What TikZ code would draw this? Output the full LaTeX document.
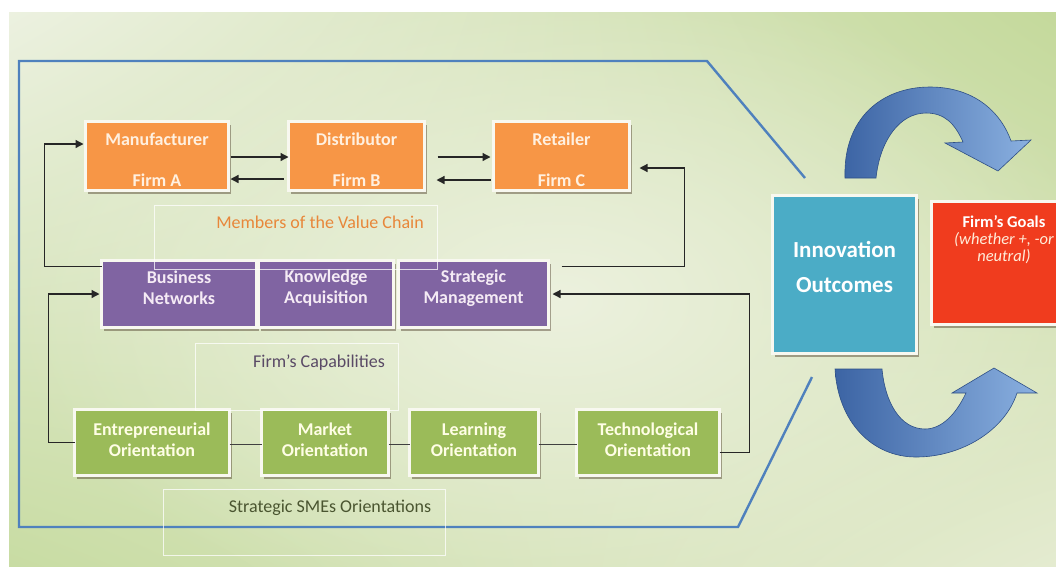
\documentclass[tikz,border=0pt]{standalone}
\usepackage{fontspec}
\setmainfont{Carlito}
\usetikzlibrary{arrows.meta,shadows,shadings,fadings,calc}

\definecolor{bgUL}{HTML}{ECF1E0}
\definecolor{bgUR}{HTML}{C4D99B}
\definecolor{bgLL}{HTML}{C8DCA3}
\definecolor{bgLR}{HTML}{E4EBD0}
\definecolor{bgMid}{HTML}{ECF1DE}
\definecolor{vcOrange}{HTML}{F79646}
\definecolor{capPurple}{HTML}{8064A2}
\definecolor{oriGreen}{HTML}{9BBB59}
\definecolor{innoTeal}{HTML}{4BACC6}
\definecolor{goalRed}{HTML}{F03C1E}
\definecolor{edgeBlue}{HTML}{4F81BD}
\definecolor{frameWhite}{HTML}{F8F8F0}
\definecolor{arcDark}{HTML}{3C64A4}
\definecolor{arcLight}{HTML}{8AB0E0}
\definecolor{arcEdge}{HTML}{2E4F86}
\definecolor{chainText}{HTML}{E8873A}
\definecolor{capText}{HTML}{5A4A66}
\definecolor{oriText}{HTML}{4A5530}

\tikzfading[name=softcentre, inner color=transparent!0, outer color=transparent!100]

\begin{document}
\begin{tikzpicture}[x=1pt,y=-1pt,
  every node/.style={inner sep=0pt, outer sep=0pt},
  panel/.style={draw=frameWhite, line width=3pt,
    drop shadow={shadow xshift=2pt, shadow yshift=-3pt, opacity=.4, fill=black!70!brown}},
  obox/.style={panel, fill=vcOrange, minimum height=69pt},
  pbox/.style={panel, fill=capPurple, minimum height=67pt},
  gbox/.style={panel, fill=oriGreen, minimum height=66pt},
  boxtext/.style={font=\bfseries\fontsize{18}{21}\selectfont, align=center},
  otext/.style={boxtext, text=white!88!orange},
  ptext/.style={boxtext, text=white!92!violet},
  gtext/.style={boxtext, text=white!90!yellow},
  captext/.style={font=\fontsize{18}{21}\selectfont},
  capframe/.style={draw=white, line width=0.9pt, opacity=.75},
  arr/.style={draw=black!85, line width=1.3pt, -{Triangle[length=8pt,width=8pt]}},
  link/.style={draw=black!75, line width=1.3pt},
  outline/.style={draw=edgeBlue, line width=2.4pt, line join=miter},
  bigarrow/.style={left color=arcDark, right color=arcLight, draw=arcEdge, line width=0.6pt}
]
\useasboundingbox (0,0) rectangle (1056,566);
\fill[white] (0,0) rectangle (1056,566);
\shade[upper left=bgUL, upper right=bgUR, lower left=bgLL, lower right=bgLR]
  (9,12) rectangle (1056,566);
\begin{scope}
  \clip (9,12) rectangle (1056,566);
  \fill[bgMid, path fading=softcentre, fit fading=true] (560,300) ellipse (560pt and 330pt);
\end{scope}

% enclosing outline of the firm
\draw[outline] (805,178) -- (707,61) -- (19,61) -- (19,527) -- (738,527) -- (812,377);

% members of the value chain
\node[obox, minimum width=143pt] (man) at (157,156) {};
\node[obox, minimum width=136pt] (dis) at (356.5,156) {};
\node[obox, minimum width=136pt] (ret) at (561.5,156) {};
\node[otext] (man-t) at ($(man.center)+(0,4)$) {Manufacturer\\[20pt]Firm A};
\node[otext] (dis-t) at ($(dis.center)+(0,4)$) {Distributor\\[20pt]Firm B};
\node[otext] (ret-t) at ($(ret.center)+(0,4)$) {Retailer\\[20pt]Firm C};

% firm's capabilities
\node[pbox, minimum width=155pt] (bn) at (179,294) {};
\node[pbox, minimum width=135pt] (ka) at (326,294) {};
\node[pbox, minimum width=150pt] (sm) at (473.5,294) {};
\node[ptext] (bn-t) at ($(bn.center)+(0,-6)$) {Business\\Networks};
\node[ptext] (ka-t) at ($(ka.center)+(0,-6)$) {Knowledge\\Acquisition};
\node[ptext] (sm-t) at ($(sm.center)+(0,-6)$) {Strategic\\Management};

% strategic SME orientations
\node[gbox, minimum width=155pt] (eo) at (152,442.5) {};
\node[gbox, minimum width=127pt] (mo) at (325,442.5) {};
\node[gbox, minimum width=129pt] (lo) at (474,442.5) {};
\node[gbox, minimum width=143pt] (to) at (648,442.5) {};
\node[gtext] (eo-t) at ($(eo.center)+(0,-3)$) {Entrepreneurial\\Orientation};
\node[gtext] (mo-t) at ($(mo.center)+(0,-3)$) {Market\\Orientation};
\node[gtext] (lo-t) at ($(lo.center)+(0,-3)$) {Learning\\Orientation};
\node[gtext] (to-t) at ($(to.center)+(0,-3)$) {Technological\\Orientation};

% outcomes and goals
\node[panel, fill=innoTeal, minimum width=144pt, minimum height=158pt] (inno) at (844.5,274.5) {};
\node[font=\bfseries\fontsize{23}{27}\selectfont, text=white, align=center] (inno-t)
  at ($(inno.center)+(0,-8)$) {Innovation\\[8pt]Outcomes};
\node[panel, fill=goalRed, minimum width=145pt, minimum height=123pt] (goal) at (1004,263) {};
\node[font=\fontsize{16.5}{17}\selectfont, text=white, align=center] (goal-t)
  at ($(goal.center)+(0,-23)$) {\textbf{Firm’s Goals}\\{\color{white!85!orange}\itshape (whether +, -or}\\{\color{white!85!orange}\itshape neutral)}};

% caption frames
\draw[capframe] (154,205) rectangle (437,269);
\draw[capframe] (195,343) rectangle (398,410);
\draw[capframe] (163,489) rectangle (445,555);
\node[captext, text=chainText] (chain-l) at (320,222) {Members of the Value Chain};
\node[captext, text=capText] (cap-l) at (319,363) {Firm’s Capabilities};
\node[captext, text=oriText] (ori-l) at (330,508) {Strategic SMEs Orientations};

% flows along the value chain
\draw[arr, shorten <=2pt] ([yshift=-1pt]man.east) -- ([yshift=-1pt]dis.west);
\draw[arr, shorten <=5pt, shorten >=2pt] ([yshift=-23pt]dis.west) -- ([yshift=-23pt]man.east);
\draw[arr, shorten <=13pt, shorten >=3pt] ([yshift=-1pt]dis.east) -- ([yshift=-1pt]ret.west);
\draw[arr, shorten <=3pt, shorten >=12pt] ([yshift=-24pt]ret.west) -- ([yshift=-24pt]dis.east);

% feedback links
\draw[arr, shorten >=2pt] ([yshift=-6pt]bn.north west) -- ++(-57,0) |- ([yshift=12pt]man.west);
\draw[arr, shorten >=2pt] (eo.west) -- ++(-26,0) |- (bn.west);
\draw[arr, shorten <=13pt, shorten >=10pt] ([yshift=-6pt]sm.north east) -- ++(136,0) |- ([yshift=-12pt]ret.east);
\draw[arr, shorten >=4pt] ([yshift=-10pt]to.east) -- ++(30,0) |- (sm.east);

% links between orientations
\draw[link] ([yshift=-2pt]eo.east) -- ([yshift=-2pt]mo.west);
\draw[link] ([yshift=-2pt]mo.east) -- ([yshift=-2pt]lo.west);
\draw[link] ([yshift=-2pt]lo.east) -- ([yshift=-2pt]to.west);

% cycle arrows between outcomes and goals
\path[bigarrow] (845,178) .. controls (843,118) and (882,87) .. (930,87)
  .. controls (972,87) and (1000,110) .. (1011,141)
  -- (1031,140) -- (998,171) -- (945,143) -- (963,142)
  .. controls (955,124) and (945,113) .. (926,113)
  .. controls (900,113) and (880,140) .. (876,178) -- cycle;
\path[bigarrow] (835,369) .. controls (838,422) and (872,457) .. (916,457)
  .. controls (962,457) and (1005,430) .. (1017,393)
  -- (1037,393) -- (994,368) -- (952,393) -- (966,393)
  .. controls (956,414) and (942,429) .. (925,429)
  .. controls (900,429) and (885,402) .. (882,369) -- cycle;
\end{tikzpicture}
\end{document}
